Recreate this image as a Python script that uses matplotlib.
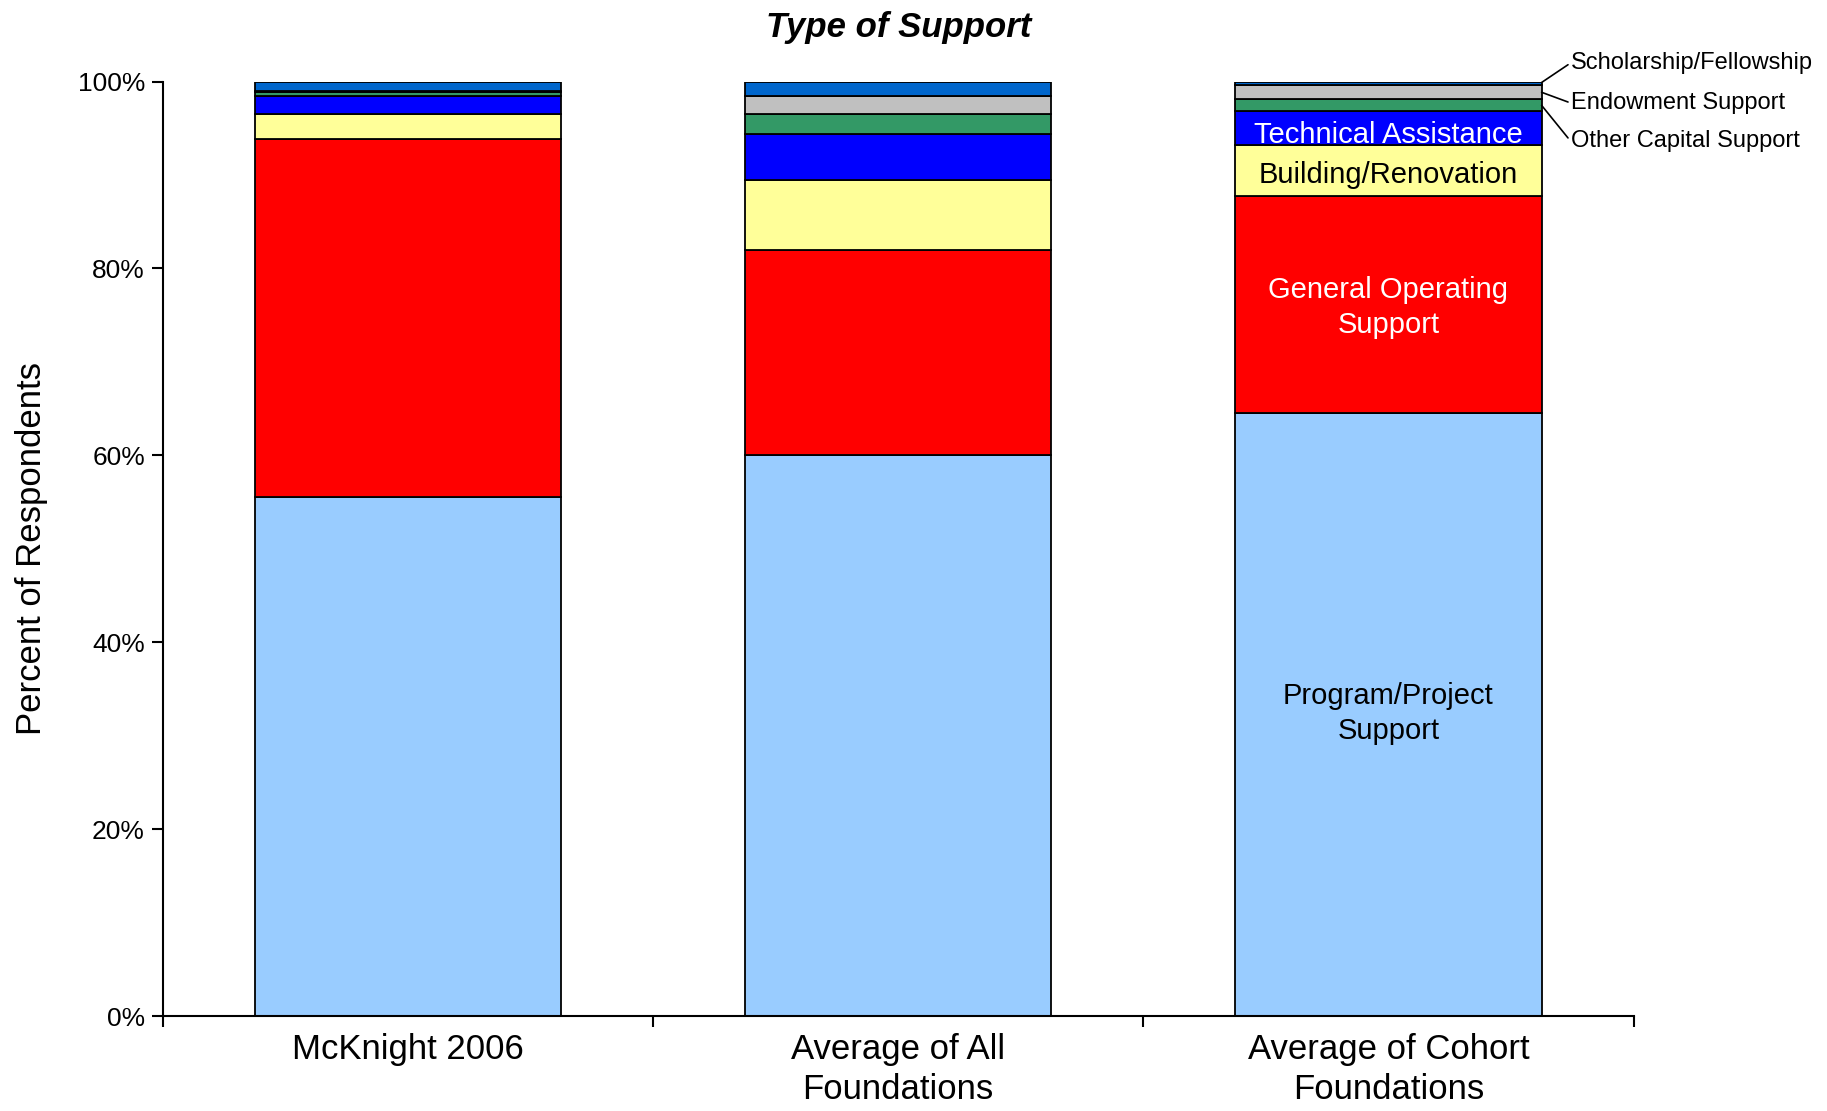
import matplotlib.pyplot as plt
import numpy as np

plt.rcParams['font.family'] = ['Liberation Sans', 'DejaVu Sans']

# bars, bottom to top
categories = ["McKnight 2006", "Average of All\nFoundations", "Average of Cohort\nFoundations"]
support_types = ["Program/Project Support", "General Operating Support", "Building/Renovation",
                 "Technical Assistance", "Other Capital Support", "Endowment Support",
                 "Scholarship/Fellowship"]
program = [55.5, 60.0, 64.5]
general = [38.4, 22.0, 23.2]
building = [2.6, 7.5, 5.5]
technical = [2.0, 4.9, 3.6]
other_capital = [0.4, 2.1, 1.3]
endowment = [0.1, 1.9, 1.5]
scholarship = [1.0, 1.6, 0.4]

colors = ["#99CCFF", "#FF0000", "#FFFF99", "#0000FF", "#339966", "#C0C0C0", "#0066CC"]

series = [program, general, building, technical, other_capital, endowment, scholarship]

fig = plt.figure(figsize=(18.27, 11.11), dpi=100)
ax = fig.add_axes([0.0892, 0.0855, 0.8049, 0.8411])

x = np.arange(len(categories))
width = 0.625
bottom = np.zeros(len(categories))
for vals, col in zip(series, colors):
    ax.bar(x, vals, width, bottom=bottom, color=col, edgecolor='black', linewidth=1.3, zorder=2)
    bottom += np.array(vals)

# labels inside the last bar
last = np.array([s[2] for s in series])
cum = np.cumsum(last)
mids = cum - last / 2
inside = [("Program/Project\nSupport", 'black', 0.1), ("General Operating\nSupport", 'white', -0.3),
          ("Building/Renovation", 'black', -0.4), ("Technical Assistance", 'white', -0.75)]
for i, (txt, c, nudge) in enumerate(inside):
    ax.text(2, mids[i] + nudge, txt, ha='center', va='center', fontsize=21, color=c,
            linespacing=1.3, zorder=3)

# small segments labelled outside with leader lines
edge = 2 + width / 2
side = [(6, 102.0, cum[6] - 0.1), (5, 97.7, mids[5]), (4, 93.6, mids[4])]
for idx, ty, py in side:
    ax.annotate(support_types[idx], xy=(edge, py), xytext=(2.372, ty), textcoords='data',
                fontsize=17, va='center', ha='left', annotation_clip=False,
                arrowprops=dict(arrowstyle='-', color='black', lw=1.2,
                                shrinkA=0, shrinkB=0, relpos=(0, 0.5)))

ax.set_xlim(-0.5, 2.5)
ax.set_ylim(0, 100)
ax.set_yticks(np.arange(0, 101, 20))
ax.set_yticklabels([f"{v}%" for v in range(0, 101, 20)], fontsize=19)
ax.set_xticks(x)
ax.set_xticklabels(categories, fontsize=25, linespacing=1.3)
ax.set_xticks([-0.5, 0.5, 1.5, 2.5], minor=True)
ax.tick_params(axis='x', which='major', length=0, pad=12)
ax.tick_params(axis='x', which='minor', length=8, width=1.5, direction='out')
ax.tick_params(axis='y', length=8, width=1.5, direction='out', pad=5)

for s in ['top', 'right']:
    ax.spines[s].set_visible(False)
for s in ['left', 'bottom']:
    ax.spines[s].set_linewidth(1.5)

ax.set_ylabel("Percent of Respondents", fontsize=25, labelpad=21)
ax.set_title("Type of Support", fontsize=25, fontweight='bold', fontstyle='italic', pad=32)

fig.savefig("out.png", dpi=100)
